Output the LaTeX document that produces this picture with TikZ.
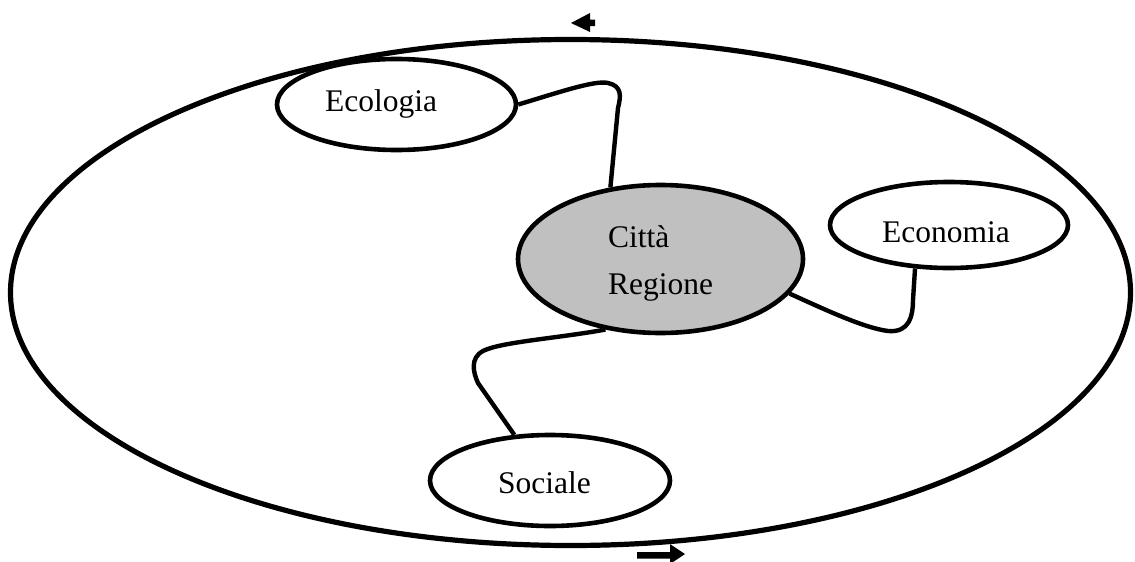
\documentclass[tikz,border=0pt]{standalone}
\usepackage{fontspec}
\setmainfont{Liberation Serif}
\usetikzlibrary{shapes.geometric}
\definecolor{cityfill}{HTML}{C0C0C0}
\tikzset{
  oval/.style={draw=black, ellipse, line width=4.6pt, inner sep=0pt, fill=white},
  lbl/.style={anchor=base west, inner sep=0pt, font=\fontsize{31.5}{37}\selectfont},
  link/.style={draw=black, line width=4.4pt},
  flecha/.style={fill=black, draw=none}
}
\begin{document}
\begin{tikzpicture}[x=1pt,y=-1pt]
\useasboundingbox (0,0) rectangle (1135,562);
% outer ellipse
\node[draw=black, ellipse, line width=5.2pt, inner sep=0pt, minimum width=1120pt, minimum height=506pt] (outer) at (570.5,292.5) {};
% inner ellipses
\node[oval, minimum width=239pt, minimum height=91pt] (eco) at (396.5,104.5) {};
\node[oval, fill=cityfill, minimum width=285pt, minimum height=148pt] (city) at (660.5,259) {};
\node[oval, minimum width=238pt, minimum height=86pt] (econ) at (949,225) {};
\node[oval, minimum width=240pt, minimum height=91pt] (soc) at (550,480.5) {};
% labels
\node[lbl] (tEco) at (325,111) {Ecologia};
\node[lbl] (tCitta) at (608,247) {Città};
\node[lbl] (tReg) at (608,294) {Regione};
\node[lbl] (tEcon) at (882,242) {Economia};
\node[lbl] (tSoc) at (498,493) {Sociale};
% connectors
\draw[link] (eco.east) .. controls (560,92) and (595,80) .. (608,83)
  .. controls (622,86) and (621,96) .. (618,108) -- (city.125);
\draw[link] (city.-15) .. controls (830,312) and (865,328) .. (888,331)
  .. controls (910,333) and (913,315) .. (913,300) -- (econ.-128);
\draw[link] (city.-128) .. controls (560,338) and (500,342) .. (483,351)
  .. controls (470,358) and (473,372) .. (478,383) -- (soc.128);
% rotation arrows
\fill[flecha] (571,23) -- (590,13) -- (590,19.5) -- (595,19.5) -- (595,26) -- (590,26) -- (590,32) -- cycle;
\fill[flecha] (637,552) -- (670,552) -- (670,544) -- (685,554) -- (670,564) -- (670,558.5) -- (637,558.5) -- cycle;
\end{tikzpicture}
\end{document}
